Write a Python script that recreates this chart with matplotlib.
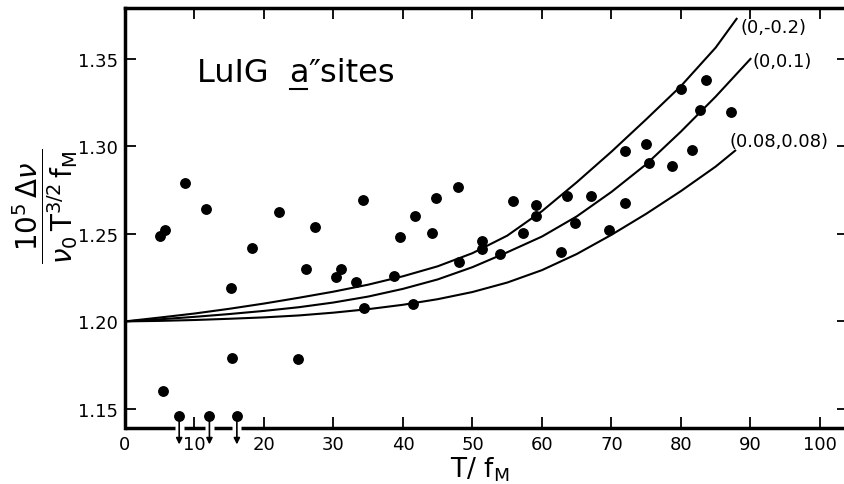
import numpy as np
import matplotlib
matplotlib.use('Agg')
import matplotlib.pyplot as plt

# measured points (T/f_M, reduced shift)
pts_x = [5.0, 5.7, 8.6, 11.6, 15.2, 15.4, 18.3, 22.2, 24.9, 26.0, 27.4, 30.4, 31.1, 33.2,
         34.3, 34.4, 38.7, 39.5, 41.4, 41.8, 44.2, 44.8, 47.9, 48.1, 51.3, 51.3, 54.0, 55.9,
         57.2, 59.1, 59.1, 62.7, 63.6, 64.8, 67.1, 69.6, 71.9, 71.9, 75.0, 75.4, 78.7, 80.0,
         81.6, 82.7, 83.6, 87.2, 5.5]
pts_y = [1.249, 1.252, 1.279, 1.2645, 1.219, 1.179, 1.242, 1.2625, 1.1787, 1.230, 1.2538, 1.2256, 1.2298, 1.2227,
         1.2696, 1.2079, 1.226, 1.248, 1.2098, 1.2605, 1.2506, 1.2704, 1.2767, 1.2338, 1.246, 1.2416, 1.2387, 1.2687,
         1.2506, 1.2667, 1.2601, 1.2395, 1.2715, 1.2563, 1.2715, 1.2521, 1.2675, 1.2974, 1.3013, 1.2904, 1.2887, 1.3329,
         1.298, 1.321, 1.3382, 1.3195, 1.1605]

# upper limits (arrows)
lim_x = [7.8, 12.15, 16.1]
lim_y = [1.1462, 1.1462, 1.1462]

top_x = [0, 5, 10, 15, 20, 25, 30, 35, 40, 45, 50, 55, 60, 65, 70, 75, 80, 85, 88]
top_y = [1.2000, 1.2022, 1.2045, 1.2072, 1.2102, 1.2135, 1.2170, 1.2210, 1.2258, 1.2315, 1.2390,
         1.2490, 1.2630, 1.2795, 1.2970, 1.3155, 1.3345, 1.3565, 1.3729]
mid_x = [0, 5, 10, 15, 20, 25, 30, 35, 40, 45, 50, 55, 60, 65, 70, 75, 80, 85, 90]
mid_y = [1.2000, 1.2012, 1.2026, 1.2042, 1.2060, 1.2081, 1.2108, 1.2142, 1.2186, 1.2240, 1.2310,
         1.2395, 1.2485, 1.2600, 1.2740, 1.2898, 1.3085, 1.3285, 1.3500]
bot_x = [0, 5, 10, 15, 20, 25, 30, 35, 40, 45, 50, 55, 60, 65, 70, 75, 80, 85, 87.8]
bot_y = [1.2000, 1.2003, 1.2008, 1.2015, 1.2023, 1.2034, 1.2050, 1.2070, 1.2095, 1.2127, 1.2168,
         1.2222, 1.2293, 1.2385, 1.2495, 1.2615, 1.2745, 1.2885, 1.2976]
curve_labels = ['(0,-0.2)', '(0,0.1)', '(0.08,0.08)']
label_pos = [(88.5, 1.3683), (90.3, 1.3489), (87.0, 1.3031)]

xticks = list(range(0, 101, 10))
yticks = [1.15, 1.20, 1.25, 1.30, 1.35]

fig = plt.figure(figsize=(8.45, 4.85), dpi=100)
ax = fig.add_axes([0.1479, 0.1155, 0.8554, 0.866])

for cx, cy in [(top_x, top_y), (mid_x, mid_y), (bot_x, bot_y)]:
    ax.plot(cx, cy, color='black', lw=1.5)

ax.plot(pts_x, pts_y, 'o', color='black', ms=6.8)
ax.plot(lim_x, lim_y, 'o', color='black', ms=6.8, clip_on=False, zorder=5)
for x, y in zip(lim_x, lim_y):
    ax.annotate('', xy=(x, y - 0.0165), xytext=(x, y), annotation_clip=False,
                arrowprops=dict(arrowstyle='-|>', color='black', lw=1.2, mutation_scale=9,
                                shrinkA=0, shrinkB=0))

for lab, (lx, ly) in zip(curve_labels, label_pos):
    ax.text(lx, ly, lab, fontsize=13, va='center', ha='left')

ax.set_xlim(0, 104)
ax.set_ylim(1.1391, 1.3791)
ax.set_xticks(xticks)
ax.set_xticklabels([str(t) for t in xticks], fontsize=13)
ax.set_yticks(yticks)
ax.set_yticklabels(['%.2f' % t for t in yticks], fontsize=13)
ax.tick_params(direction='in', length=8, width=1.3, top=True, right=True, pad=5)

for s in ['left', 'top']:
    ax.spines[s].set_linewidth(2.5)
ax.spines['right'].set_visible(False)
ax.spines['bottom'].set_visible(False)

# bottom axis line, broken where the arrows pass
edges = [0]
for x in lim_x:
    edges += [x - 0.65, x + 0.65]
edges.append(104)
for a, b in zip(edges[::2], edges[1::2]):
    ax.plot([a, b], [0, 0], color='black', lw=2.5, transform=ax.get_xaxis_transform(),
            clip_on=False, solid_capstyle='butt')

ax.set_xlabel(r'T/ f$_\mathrm{M}$', fontsize=19)
ax.xaxis.set_label_coords(0.491, -0.062)
ax.set_ylabel(r'$\dfrac{10^5\,\Delta\nu}{\nu_0\,\mathrm{T}^{3/2}\,\mathrm{f}_\mathrm{M}}$', fontsize=20)
ax.yaxis.set_label_coords(-0.062, 0.53)

# title text with underlined a
fig.canvas.draw()
r = fig.canvas.get_renderer()
t1 = ax.text(0.0996, 0.826, 'LuIG  ', fontsize=23, transform=ax.transAxes)
bb = t1.get_window_extent(r).transformed(ax.transAxes.inverted())
t2 = ax.text(bb.x1, 0.826, 'a', fontsize=23, transform=ax.transAxes)
bb2 = t2.get_window_extent(r).transformed(ax.transAxes.inverted())
ax.plot([bb2.x0 + 0.002, bb2.x1 - 0.002], [0.808, 0.808], color='black', lw=1.5, transform=ax.transAxes)
ax.text(bb2.x1, 0.826, '\u2033sites', fontsize=23, transform=ax.transAxes)

fig.savefig('out.png', dpi=100)
